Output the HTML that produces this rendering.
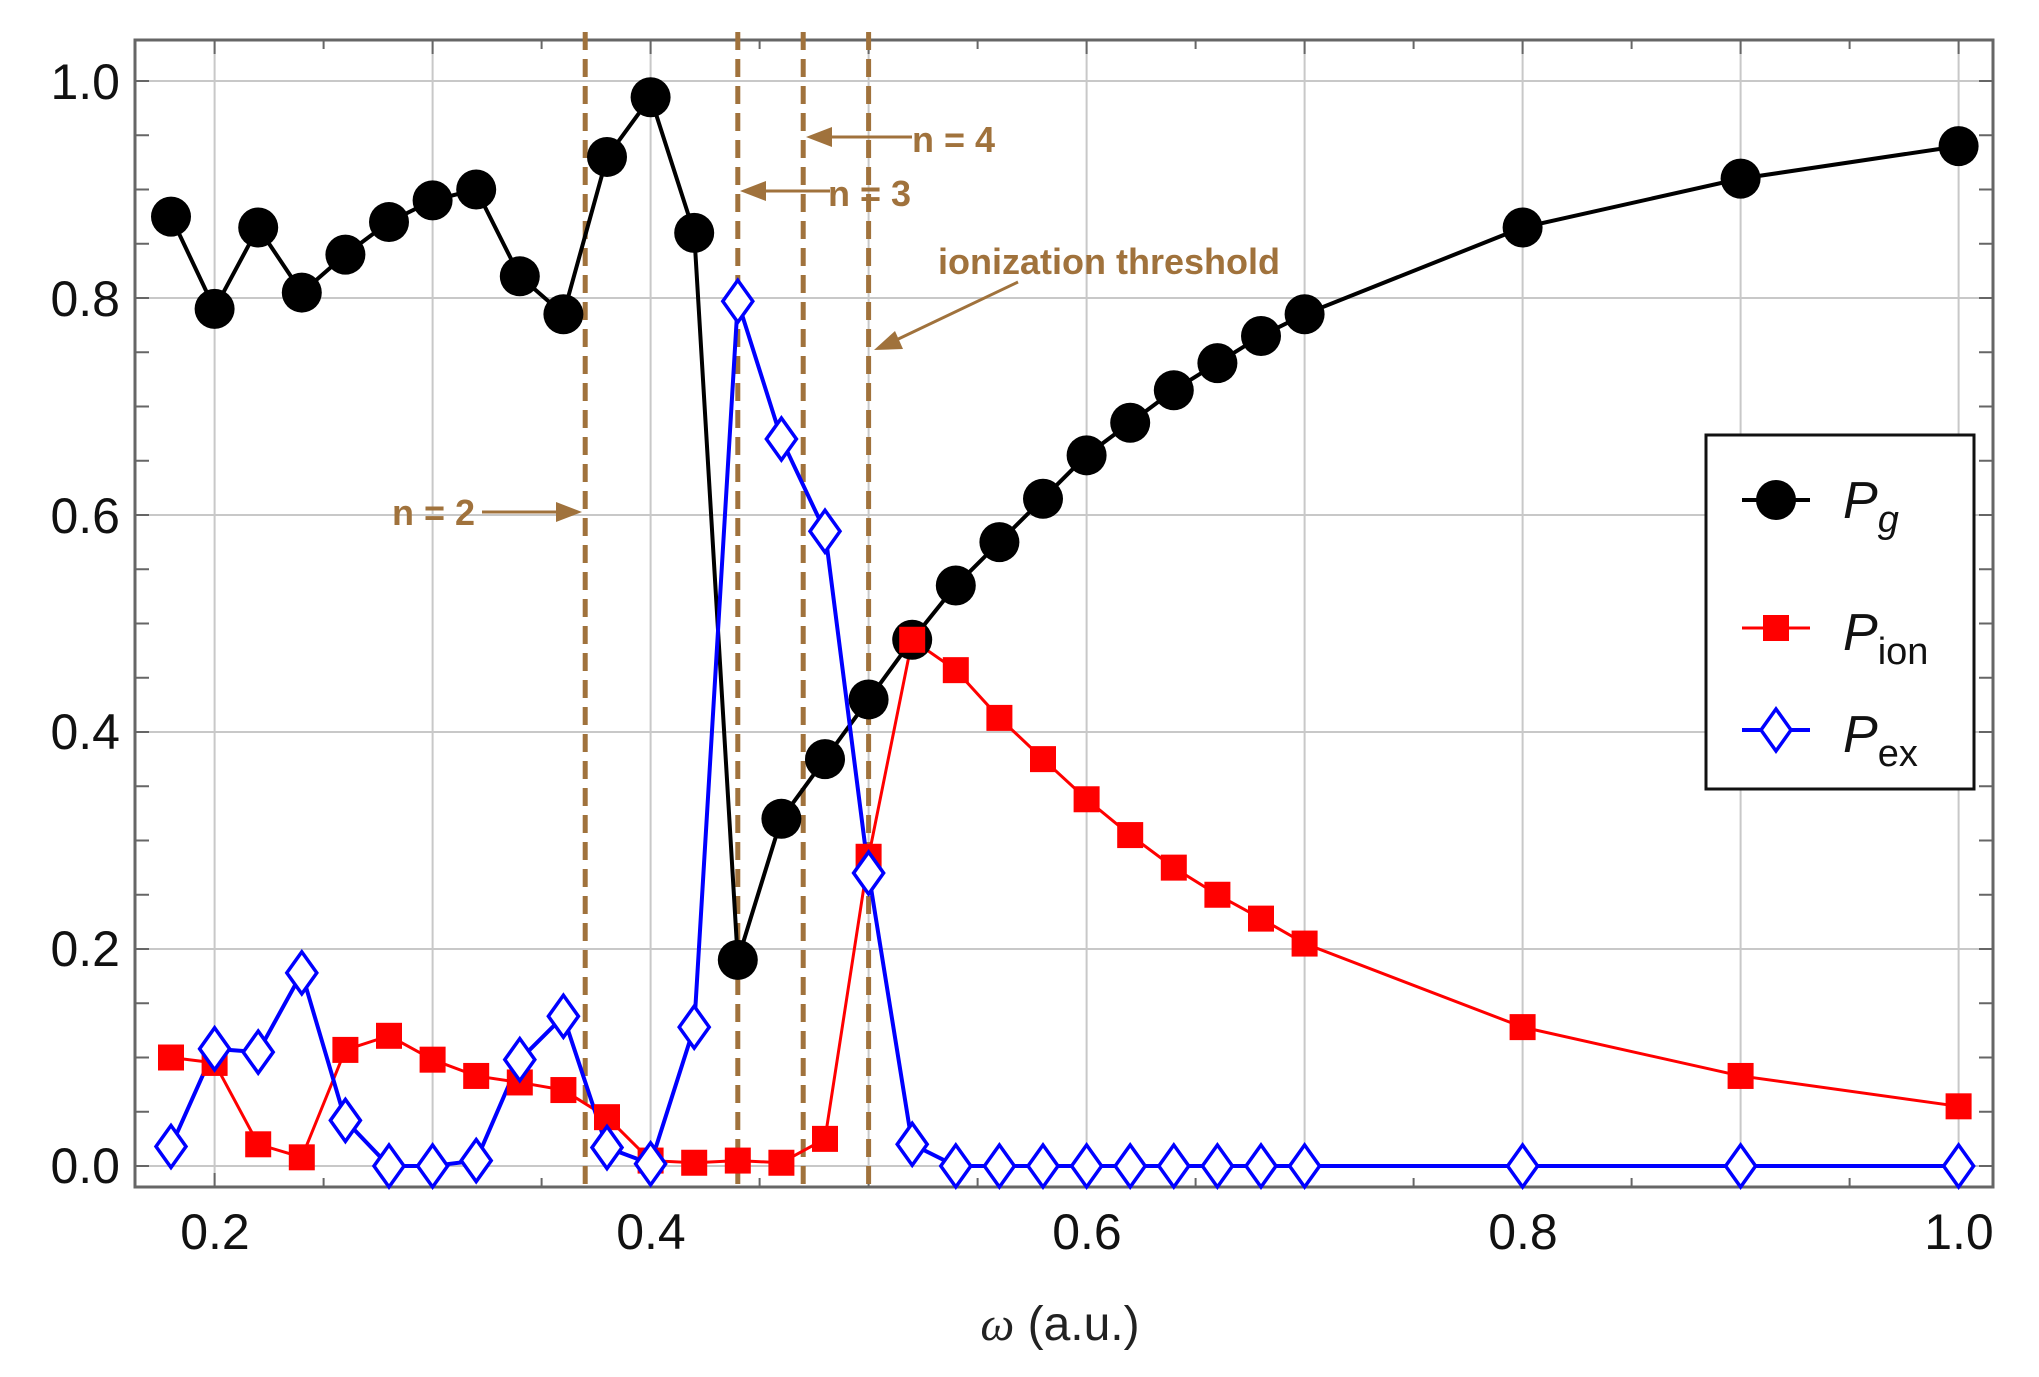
<!DOCTYPE html>
<html><head><meta charset="utf-8"><style>
html,body{margin:0;padding:0;background:#fff;}
svg{display:block;font-family:"Liberation Sans",sans-serif;}
</style></head><body>
<svg id="s" width="2039" height="1377" viewBox="0 0 2039 1377" xmlns="http://www.w3.org/2000/svg">
<rect width="2039" height="1377" fill="#fff"/>
<g id="grid" stroke="#c8c8c8" stroke-width="2"></g>
<g id="ticks" stroke="#666" stroke-width="2"></g>
<rect x="135" y="40" width="1858" height="1147" fill="none" stroke="#666" stroke-width="3"/>
<g font-size="50" fill="#111" text-anchor="end">
<text x="120" y="99">1.0</text>
<text x="120" y="316">0.8</text>
<text x="120" y="533">0.6</text>
<text x="120" y="749">0.4</text>
<text x="120" y="966">0.2</text>
<text x="120" y="1183">0.0</text>
</g>
<g font-size="50" fill="#111" text-anchor="middle">
<text x="215" y="1249">0.2</text>
<text x="651" y="1249">0.4</text>
<text x="1087" y="1249">0.6</text>
<text x="1523" y="1249">0.8</text>
<text x="1959" y="1249">1.0</text>
</g>
<text x="1060" y="1340" font-size="48" fill="#222" text-anchor="middle"><tspan font-style="italic" font-family="Liberation Serif">ω</tspan> (a.u.)</text>
<g id="dash" stroke="#a0723c" stroke-width="5" stroke-dasharray="18,9"></g>
<g fill="#a0723c" stroke="#a0723c" font-size="36" font-weight="bold">
<text x="392" y="525" stroke="none">n = 2</text>
<line x1="482" y1="512" x2="560" y2="512" stroke-width="3"/>
<polygon points="582,512 556,502 556,522" stroke="none"/>
<text x="828" y="206" stroke="none">n = 3</text>
<line x1="830" y1="191" x2="760" y2="191" stroke-width="3"/>
<polygon points="740,191 766,181 766,201" stroke="none"/>
<text x="912" y="152" stroke="none">n = 4</text>
<line x1="912" y1="137" x2="826" y2="137" stroke-width="3"/>
<polygon points="806,137 832,127 832,147" stroke="none"/>
<text x="938" y="274" stroke="none">ionization threshold</text>
<line x1="1018" y1="282" x2="892" y2="342" stroke-width="3"/>
<polygon points="874,350 895,331 903,349" stroke="none"/>
</g>
<g id="series"></g>
<rect x="1706" y="435" width="268" height="354" fill="#fff" stroke="#111" stroke-width="3"/>
<g id="leg"></g>
<g font-size="52" fill="#111" font-style="italic">
<text x="1843" y="518">P<tspan font-size="38" dy="14">g</tspan></text>
<text x="1843" y="650">P<tspan font-size="38" dy="14" font-style="normal">ion</tspan></text>
<text x="1843" y="752">P<tspan font-size="38" dy="14" font-style="normal">ex</tspan></text>
</g>
</svg>
<script>
var NS="http://www.w3.org/2000/svg";
function X(w){return 650.6+(w-0.4)*2180;}
function Y(v){return 1166-v*1085;}
function el(p,t,a){var e=document.createElementNS(NS,t);for(var k in a)e.setAttribute(k,a[k]);document.getElementById(p).appendChild(e);return e;}
for(var w=0.2;w<=1.001;w+=0.1){el("grid","line",{x1:X(w),x2:X(w),y1:40,y2:1187});}
for(var v=0;v<=1.001;v+=0.2){el("grid","line",{x1:135,x2:1993,y1:Y(v),y2:Y(v)});}
for(var w=0.2;w<=1.001;w+=0.05){var L=(Math.abs((w*10)%1)<0.01||Math.abs((w*10)%1-1)<0.01)?14:9;
 el("ticks","line",{x1:X(w),x2:X(w),y1:1187,y2:1187-L});el("ticks","line",{x1:X(w),x2:X(w),y1:40,y2:40+L});}
for(var v=0;v<=1.001;v+=0.05){el("ticks","line",{x1:135,x2:149,y1:Y(v),y2:Y(v)});el("ticks","line",{x1:1993,x2:1979,y1:Y(v),y2:Y(v)});}
[0.37,0.44,0.47,0.5].forEach(function(w){el("dash","line",{x1:X(w),x2:X(w),y1:32,y2:1187});});
var ws=[0.18,0.20,0.22,0.24,0.26,0.28,0.30,0.32,0.34,0.36,0.38,0.40,0.42,0.44,0.46,0.48,0.50,0.52,0.54,0.56,0.58,0.60,0.62,0.64,0.66,0.68,0.70,0.80,0.90,1.0];
var pg=[0.875,0.79,0.865,0.805,0.84,0.87,0.89,0.90,0.82,0.785,0.93,0.985,0.86,0.19,0.32,0.375,0.43,0.485,0.535,0.575,0.615,0.655,0.685,0.715,0.74,0.765,0.785,0.865,0.91,0.94];
var pi=[0.10,0.095,0.02,0.008,0.107,0.12,0.098,0.083,0.077,0.07,0.045,0.005,0.003,0.005,0.003,0.025,0.285,0.485,0.457,0.413,0.375,0.338,0.305,0.275,0.25,0.228,0.205,0.128,0.083,0.055];
var pe=[0.018,0.108,0.105,0.178,0.042,0,0,0.005,0.098,0.138,0.017,0.002,0.128,0.797,0.67,0.585,0.27,0.02,0,0,0,0,0,0,0,0,0,0,0,0];
function pts(a){return ws.map(function(w,i){return X(w)+","+Y(a[i]);}).join(" ");}
el("series","polyline",{points:pts(pg),fill:"none",stroke:"#000","stroke-width":4});
el("series","polyline",{points:pts(pi),fill:"none",stroke:"#f00","stroke-width":3});
el("series","polyline",{points:pts(pe),fill:"none",stroke:"#00f","stroke-width":4});
function dia(g,x,y){el(g,"polygon",{points:(x)+","+(y-21)+" "+(x+15)+","+y+" "+x+","+(y+21)+" "+(x-15)+","+y,fill:"#fff",stroke:"#00f","stroke-width":3.5});}
ws.forEach(function(w,i){el("series","circle",{cx:X(w),cy:Y(pg[i]),r:20,fill:"#000"});});
ws.forEach(function(w,i){el("series","rect",{x:X(w)-13,y:Y(pi[i])-13,width:26,height:26,fill:"#f00"});});
ws.forEach(function(w,i){dia("series",X(w),Y(pe[i]));});
el("leg","line",{x1:1742,x2:1810,y1:500,y2:500,stroke:"#000","stroke-width":4});
el("leg","circle",{cx:1776,cy:500,r:20,fill:"#000"});
el("leg","line",{x1:1742,x2:1810,y1:628,y2:628,stroke:"#f00","stroke-width":3});
el("leg","rect",{x:1763,y:615,width:26,height:26,fill:"#f00"});
el("leg","line",{x1:1742,x2:1810,y1:730,y2:730,stroke:"#00f","stroke-width":4});
dia("leg",1776,730);
</script>
</body></html>
